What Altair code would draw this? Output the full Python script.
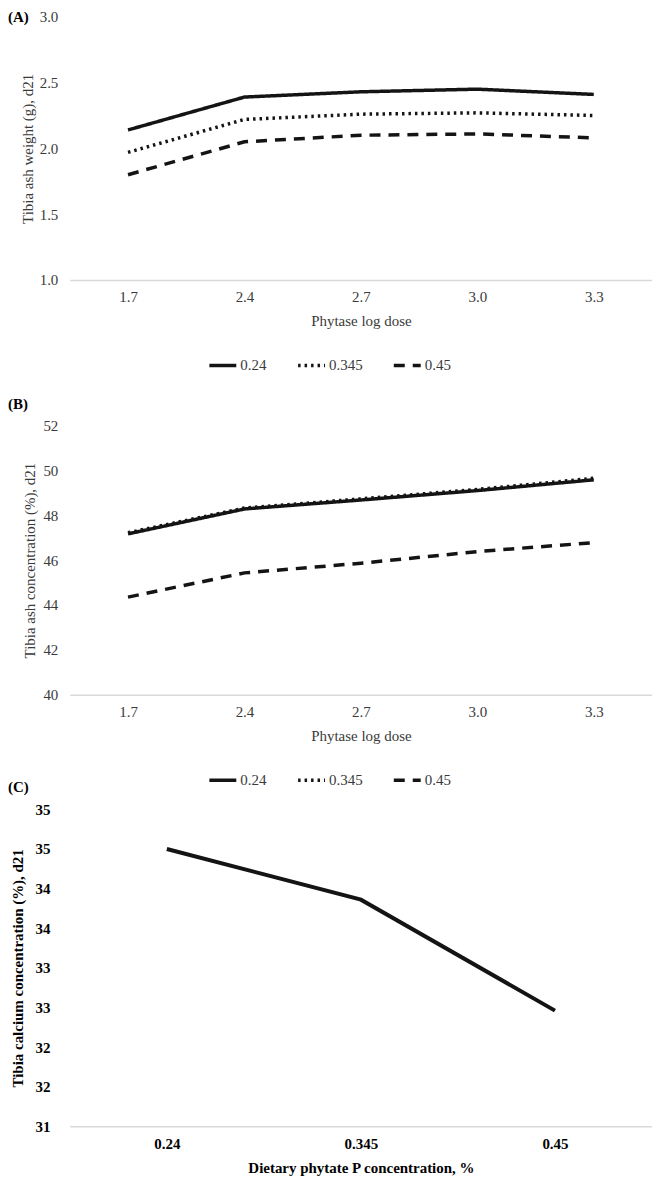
import altair as alt
import pandas as pd

# ---------------- data ----------------
doses = ["1.7", "2.4", "2.7", "3.0", "3.3"]
series = ["0.24", "0.345", "0.45"]

ash_weight_024 = [2.14, 2.39, 2.43, 2.45, 2.41]
ash_weight_0345 = [1.97, 2.22, 2.26, 2.27, 2.25]
ash_weight_045 = [1.80, 2.05, 2.10, 2.11, 2.08]

ash_conc_024 = [47.17, 48.28, 48.68, 49.10, 49.58]
ash_conc_0345 = [47.22, 48.32, 48.73, 49.15, 49.65]
ash_conc_045 = [44.35, 45.43, 45.86, 46.38, 46.78]

phytate_p = ["0.24", "0.345", "0.45"]
tibia_ca = [34.50, 33.86, 32.46]

ticks_a = [1.0, 1.5, 2.0, 2.5, 3.0]
ticks_b = [40, 42, 44, 46, 48, 50, 52]
ticks_c = [31.0, 31.5, 32.0, 32.5, 33.0, 33.5, 34.0, 34.5, 35.0]

dash_styles = [[1, 0], [2.5, 4], [11, 8]]

# ---------------- tables ----------------
def long_table(cols):
    rows = []
    for s, vals in zip(series, cols):
        for d, v in zip(doses, vals):
            rows.append({"dose": d, "series": s, "value": v})
    return pd.DataFrame(rows)

df_a = long_table([ash_weight_024, ash_weight_0345, ash_weight_045])
df_b = long_table([ash_conc_024, ash_conc_0345, ash_conc_045])
df_c = pd.DataFrame({"phytate": phytate_p, "ca": tibia_ca})

FONT = "Liberation Serif"
TXT = "#3a3a3a"
LINE = "#141414"
FS = 15
W = 584
HA, HB, HC = 264, 270, 318


def letter(label, y):
    return alt.Chart(pd.DataFrame({"t": [label]})).mark_text(
        font=FONT, fontSize=15, fontWeight="bold", color="#000",
        align="left", baseline="middle"
    ).encode(text="t:N", x=alt.value(-62), y=alt.value(y))


def x_axis(title, bold=False):
    return alt.Axis(
        labelAngle=0, ticks=False, grid=False,
        domainColor="#d9d9d9", domainWidth=1.5,
        labelPadding=10, titlePadding=9,
        labelFont=FONT, labelFontSize=FS,
        labelColor="#000" if bold else TXT,
        labelFontWeight="bold" if bold else "normal",
        titleFont=FONT, titleFontSize=FS,
        titleFontWeight="bold" if bold else "normal",
        titleColor="#000" if bold else TXT,
        title=title,
    )


def y_axis(title, values, fmt, height, title_x, label_pad, bold=False):
    return alt.Axis(
        values=values, format=fmt, domain=False, ticks=False, grid=False,
        labelPadding=label_pad, labelFont=FONT, labelFontSize=FS,
        labelColor="#000" if bold else TXT,
        labelFontWeight="bold" if bold else "normal",
        title=title, titleFont=FONT, titleFontSize=FS,
        titleFontWeight="bold" if bold else "normal",
        titleColor="#000" if bold else TXT,
        titleX=title_x, titleY=height / 2, titleAngle=270,
        titleAlign="center", titleBaseline="middle",
    )


def legend(height):
    return alt.Legend(
        title=None, orient="none", direction="horizontal",
        legendX=138, legendY=height + 70,
        symbolType="stroke", symbolSize=729, symbolStrokeWidth=3.5,
        symbolStrokeColor=LINE, labelFont=FONT, labelFontSize=FS,
        labelColor=TXT, labelOffset=2, columnPadding=24, padding=0,
        gridAlign="each",
    )


def line_panel(df, ytitle, domain, ticks, fmt, height, title_x):
    return alt.Chart(df).mark_line(color=LINE, strokeWidth=3.5).encode(
        x=alt.X("dose:N", sort=doses,
                scale=alt.Scale(type="point", padding=0.5),
                axis=x_axis("Phytase log dose")),
        y=alt.Y("value:Q",
                scale=alt.Scale(domain=domain, nice=False, zero=False),
                axis=y_axis(ytitle, ticks, fmt, height, title_x, 12)),
        strokeDash=alt.StrokeDash(
            "series:N", sort=series,
            scale=alt.Scale(domain=series, range=dash_styles),
            legend=legend(height)),
        detail="series:N",
    ).properties(width=W, height=height)


panel_a = alt.layer(
    line_panel(df_a, "Tibia ash weight (g), d21", [1, 3], ticks_a, ".1f", HA, -42),
    letter("(A)", 0),
    letter("(B)", 388),
).properties(width=W, height=HA)

panel_b = alt.layer(
    line_panel(df_b, "Tibia ash concentration (%), d21", [40, 52], ticks_b, "d", HB, -40),
    letter("(C)", 363),
).properties(width=W, height=HB)

panel_c = alt.Chart(df_c).mark_line(color=LINE, strokeWidth=4).encode(
    x=alt.X("phytate:N", sort=phytate_p,
            scale=alt.Scale(type="point", padding=0.5),
            axis=x_axis("Dietary phytate P concentration, %", bold=True)),
    y=alt.Y("ca:Q", scale=alt.Scale(domain=[31, 35], nice=False, zero=False),
            axis=y_axis("Tibia calcium concentration (%), d21", ticks_c, ".0f",
                        HC, -52, 20, bold=True)),
).properties(width=W, height=HC)

chart = alt.vconcat(panel_a, panel_b, panel_c, spacing=7).resolve_scale(
    x="independent", y="independent", strokeDash="independent"
).resolve_legend(strokeDash="independent").properties(
    padding=0, background="white"
).configure_view(strokeWidth=0)

chart.save("out.html", embed_options={"renderer": "svg", "actions": False})
